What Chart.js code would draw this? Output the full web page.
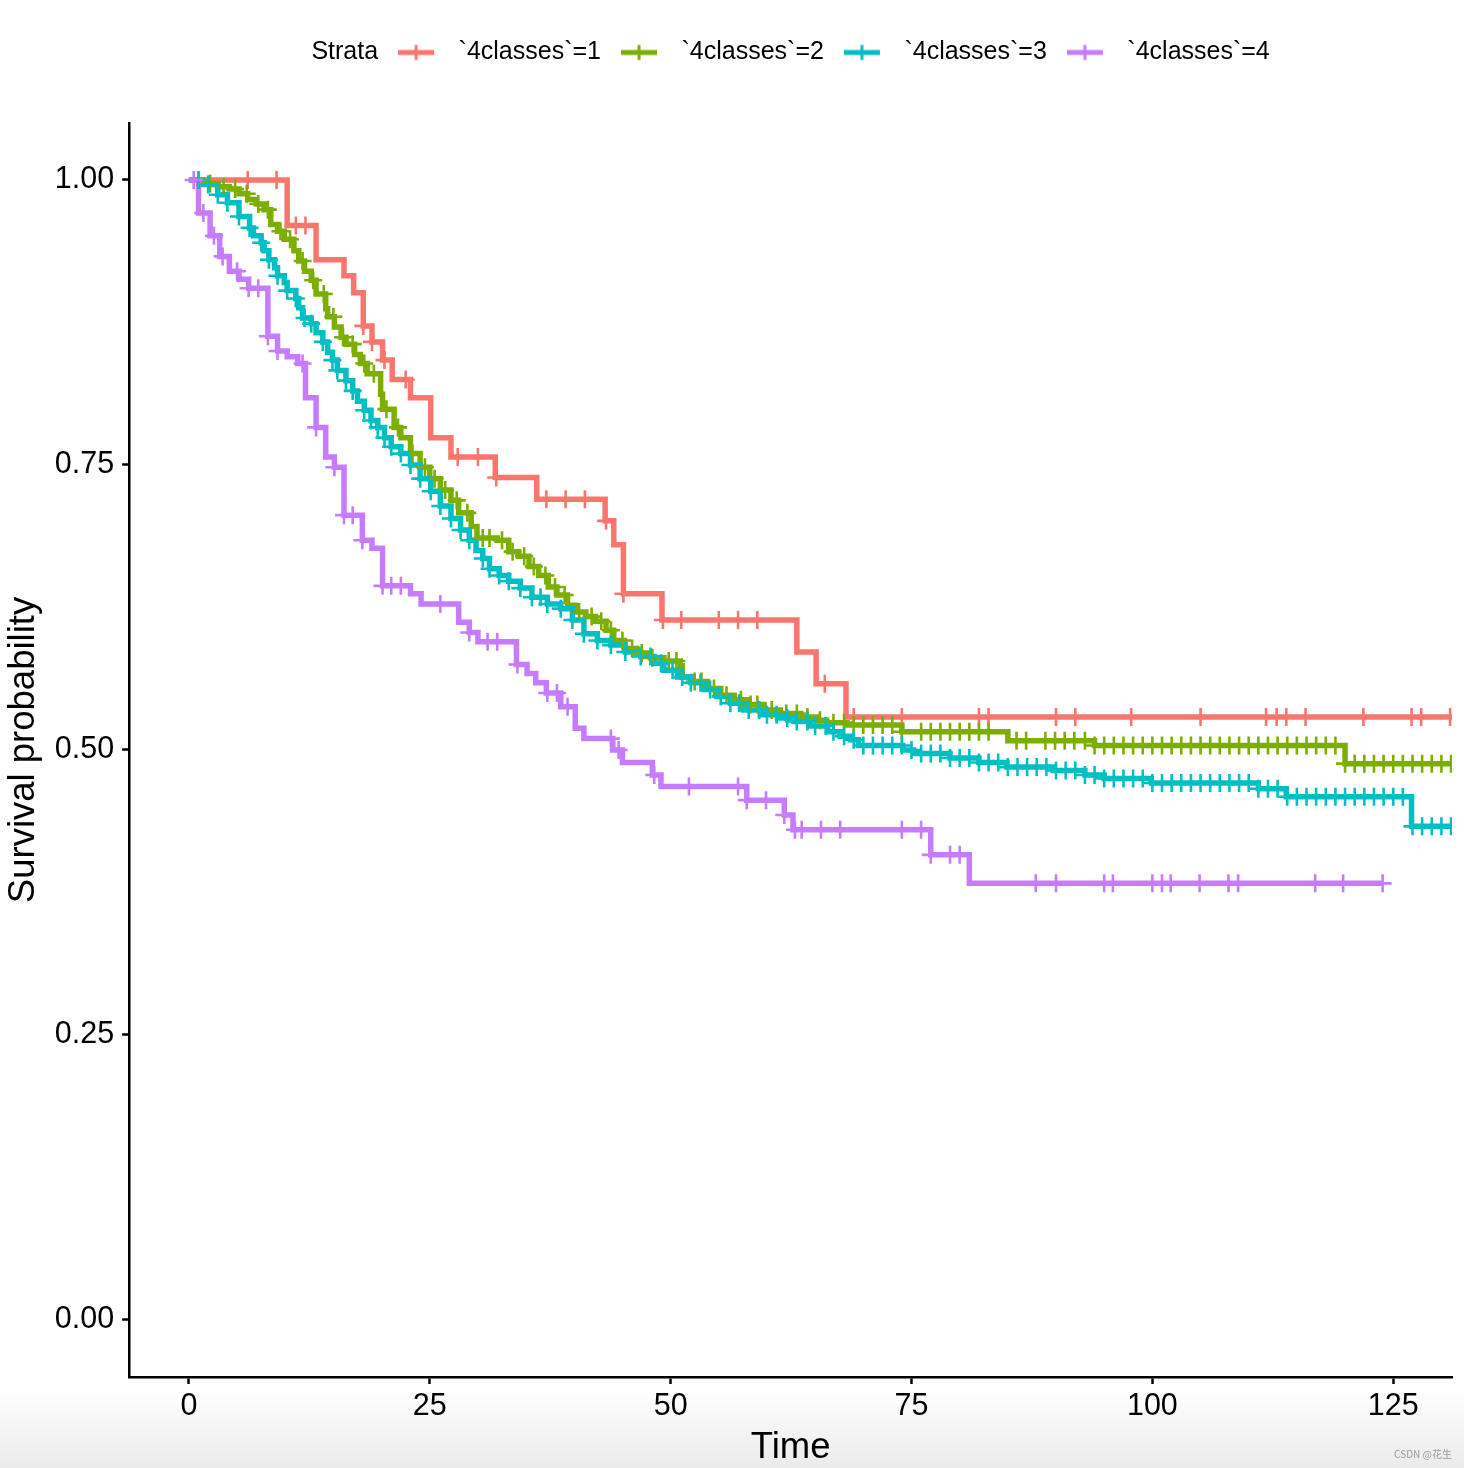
<!DOCTYPE html>
<html>
<head>
<meta charset="utf-8">
<script src="https://cdn.jsdelivr.net/npm/chart.js"></script>
<style>
  html, body { margin: 0; padding: 0; }
  body {
    width: 1464px; height: 1468px; position: relative; overflow: hidden;
    background: linear-gradient(to bottom, #ffffff 0px, #ffffff 1388px, #ebebeb 1468px);
  }
  #km { position: absolute; left: 0; top: 0; }
  #mark { position: absolute; right: 12px; top: 1446px; font: 10px "Noto Sans CJK SC", sans-serif; color: #9a9a9a; }
</style>
</head>
<body>
<canvas id="km" width="1464" height="1468"></canvas>
<div id="mark">CSDN @花生</div>
<script>
// strata
var strataNames = ['`4classes`=1', '`4classes`=2', '`4classes`=3', '`4classes`=4'];
var strataColors = ['#F8766D', '#7CAE00', '#00BFC4', '#C77CFF'];

// axis ticks
var xTicks = [0, 25, 50, 75, 100, 125];
var yTicks = [0, 0.25, 0.5, 0.75, 1];
var yTickLabels = ['0.00', '0.25', '0.50', '0.75', '1.00'];

// stratum 1: step times, survival after each step, censor times
var time1 = [0, 10.2, 13.2, 16.1, 17.1, 18.1, 19.0, 20.1, 21.1, 23.0, 25.1, 27.2, 31.8, 36.1, 43.2, 44.1, 45.1, 49.1, 63.1, 65.1, 68.2, 131.1];
var surv1 = [1.000, 0.960, 0.930, 0.916, 0.901, 0.872, 0.858, 0.842, 0.825, 0.809, 0.774, 0.757, 0.739, 0.720, 0.701, 0.680, 0.637, 0.614, 0.586, 0.558, 0.529, 0.529];
var cens1 = [6.1, 9.1, 11.1, 12.1, 18.1, 19.0, 20.3, 22.5, 27.9, 30.0, 31.9, 37.1, 39.1, 41.1, 43.3, 45.1, 49.2, 51.1, 55.0, 57.0, 59.0, 66.0, 69.0, 74.0, 82.0, 83.0, 90.0, 92.0, 97.8, 105.0, 111.8, 112.9, 113.9, 115.9, 121.9, 126.9, 127.9, 130.9];

// stratum 2
var time2 = [0, 1.5, 3.0, 4.2, 5.2, 6.1, 7.0, 7.8, 8.5, 9.2,
  9.9, 10.9, 11.4, 12.0, 12.7, 13.2, 14.2, 14.4, 15.1, 15.8,
  16.3, 17.2, 17.8, 18.5, 19.9, 20.1, 21.3, 22.0, 23.0, 24.0,
  25.0, 26.1, 27.2, 28.0, 29.3, 29.9, 32.0, 33.2, 34.2, 35.3,
  36.3, 37.3, 38.2, 39.3, 40.1, 41.2, 42.2, 43.3, 44.1, 45.2,
  46.5, 47.9, 49.3, 51.0, 51.2, 52.2, 53.8, 55.2, 56.6, 58.1,
  59.7, 61.4, 63.5, 65.2, 66.2, 68.3, 74.0, 85.0, 94.0, 120.0,
  131.1];
var surv2 = [1.000, 0.997, 0.994, 0.992, 0.988, 0.983, 0.979, 0.974, 0.961, 0.955,
  0.948, 0.938, 0.929, 0.920, 0.912, 0.900, 0.887, 0.880, 0.871, 0.862,
  0.856, 0.847, 0.839, 0.830, 0.812, 0.799, 0.783, 0.774, 0.760, 0.748,
  0.738, 0.728, 0.719, 0.708, 0.696, 0.686, 0.684, 0.674, 0.670, 0.661,
  0.653, 0.643, 0.636, 0.627, 0.621, 0.617, 0.613, 0.605, 0.596, 0.589,
  0.585, 0.581, 0.578, 0.574, 0.564, 0.560, 0.554, 0.548, 0.544, 0.540,
  0.535, 0.532, 0.529, 0.526, 0.524, 0.522, 0.516, 0.508, 0.504, 0.488,
  0.488];
var cens2 = [1.0, 2.2, 3.6, 4.8, 6.0, 7.2, 8.2, 9.5, 10.5, 11.8, 12.9, 14.0, 15.0, 16.0, 17.0, 18.2, 19.2, 20.5, 21.7, 23.2,
  24.5, 25.5, 26.6, 27.8, 28.9, 30.5, 31.2, 32.5, 33.6, 34.8, 35.8, 37.0, 38.0, 39.0, 40.5, 41.8, 42.8, 43.8, 45.0, 46.0,
  47.0, 48.1, 49.8, 50.6, 52.5, 53.2, 54.5, 55.8, 57.3, 58.3, 59.0, 60.5, 62.0, 63.1, 64.2, 65.5, 66.9, 68.0,
  69.0, 70.0, 71.0, 72.0, 73.0, 74.0, 76.0, 77.0, 78.0, 79.0, 80.0, 81.0, 82.0, 83.0, 85.9, 86.9, 88.9, 89.9, 90.9, 91.9, 93.0,
  94.0, 95.0, 96.0, 97.0, 98.0, 99.0, 100.0, 101.0, 102.0, 103.0, 104.0, 105.0, 106.0, 107.0, 108.0, 109.0, 110.0,
  111.0, 112.0, 113.0, 114.0, 115.0, 116.0, 117.0, 118.0, 119.0, 120.0, 121.0, 122.0, 123.0, 124.0, 125.0, 126.0,
  127.0, 128.0, 129.0, 130.0, 131.0];

// stratum 3
var time3 = [0, 1.1, 3.0, 4.0, 5.2, 6.3, 6.7, 7.5, 7.8, 8.3,
  8.9, 9.2, 9.9, 10.2, 11.1, 11.4, 11.8, 12.7, 13.2, 13.9,
  14.4, 14.9, 15.4, 16.3, 17.0, 17.5, 18.2, 18.9, 19.6, 20.3,
  21.0, 22.0, 23.0, 24.0, 25.1, 26.1, 27.2, 28.2, 29.1, 29.8,
  30.5, 31.2, 32.2, 33.2, 34.4, 35.6, 37.2, 38.6, 39.8, 41.0,
  42.4, 43.8, 45.3, 46.9, 48.3, 49.3, 50.7, 52.1, 53.5, 54.8,
  56.2, 57.6, 59.3, 61.1, 62.8, 64.5, 66.3, 67.6, 68.7, 69.5,
  74.1, 75.2, 79.0, 82.0, 84.9, 89.7, 93.0, 95.0, 99.9, 111.0,
  113.9, 126.9, 131.1];
var surv3 = [1.000, 0.996, 0.987, 0.980, 0.968, 0.958, 0.951, 0.945, 0.938, 0.930,
  0.923, 0.916, 0.910, 0.903, 0.896, 0.888, 0.879, 0.874, 0.866, 0.858,
  0.849, 0.842, 0.833, 0.824, 0.815, 0.806, 0.798, 0.789, 0.783, 0.774,
  0.766, 0.760, 0.750, 0.738, 0.727, 0.714, 0.703, 0.693, 0.684, 0.675,
  0.668, 0.659, 0.653, 0.648, 0.642, 0.634, 0.628, 0.624, 0.614, 0.602,
  0.596, 0.592, 0.586, 0.582, 0.576, 0.570, 0.564, 0.559, 0.553, 0.547,
  0.541, 0.535, 0.531, 0.528, 0.525, 0.521, 0.516, 0.512, 0.509, 0.504,
  0.500, 0.497, 0.493, 0.489, 0.485, 0.482, 0.478, 0.475, 0.471, 0.466,
  0.459, 0.433, 0.433];
var cens3 = [1.0, 2.0, 3.0, 4.0, 5.2, 6.3, 7.5, 8.3, 9.2, 10.2, 11.1, 12.0, 12.7, 13.9, 14.9, 15.4, 16.3, 17.0, 18.2, 18.9,
  19.6, 20.3, 21.0, 22.0, 23.0, 24.0, 25.1, 26.1, 27.2, 28.2, 29.1, 30.5, 31.2, 32.2, 33.2, 34.4, 35.6, 36.5, 37.2, 38.6,
  39.8, 41.0, 42.4, 43.8, 45.3, 46.9, 47.9, 49.0, 50.2, 51.2, 52.1, 53.1, 54.1, 55.2, 56.2, 57.1, 58.1, 59.2, 60.0, 61.0,
  62.1, 63.1, 64.2, 65.0, 66.1, 66.9, 68.0, 69.0, 70.0, 71.0, 72.0, 73.0, 74.0, 75.0, 76.0, 77.0, 78.0, 79.0, 80.0, 81.0,
  82.0, 83.0, 84.0, 85.0, 86.0, 87.0, 88.0, 89.0, 90.0, 91.0, 92.0, 93.0, 94.0, 95.0, 96.0, 97.0, 98.0, 99.0, 100.0,
  101.0, 102.0, 103.0, 104.0, 105.0, 106.0, 107.0, 108.0, 109.0, 110.0, 111.0, 112.0, 113.0, 114.0, 115.0, 116.0,
  117.0, 118.0, 119.0, 120.0, 121.0, 122.0, 123.0, 124.0, 125.0, 126.0, 127.0, 128.0, 129.0, 130.0, 131.0];

// stratum 4
var time4 = [0, 1.0, 2.2, 3.2, 4.2, 5.2, 6.2, 8.2, 9.2, 10.2,
  11.3, 12.1, 13.2, 14.2, 15.1, 16.1, 18.0, 19.0, 20.1, 23.0,
  24.1, 28.0, 29.1, 30.0, 34.0, 35.1, 36.0, 37.1, 38.6, 40.1,
  41.0, 44.0, 45.0, 48.1, 49.0, 57.9, 61.8, 62.7, 77.0, 81.0,
  124.0];
var surv4 = [1.000, 0.971, 0.951, 0.933, 0.920, 0.913, 0.905, 0.863, 0.850, 0.845,
  0.839, 0.809, 0.783, 0.757, 0.748, 0.706, 0.684, 0.677, 0.644, 0.637,
  0.628, 0.612, 0.603, 0.595, 0.575, 0.567, 0.559, 0.550, 0.538, 0.519,
  0.510, 0.500, 0.489, 0.478, 0.468, 0.456, 0.443, 0.430, 0.408, 0.383,
  0.383];
var cens4 = [0.5, 1.5, 2.6, 3.5, 5.0, 6.2, 7.2, 8.2, 9.2, 11.8, 13.2, 15.1, 16.1, 17.0, 18.0, 20.1, 21.0, 22.0, 26.1, 29.1,
  31.0, 32.0, 34.1, 37.2, 38.2, 39.3, 43.8, 44.6, 48.3, 51.9, 57.0, 57.9, 59.9, 61.8, 62.9, 63.6, 65.6, 67.6, 74.0, 76.0,
  77.0, 79.0, 80.0, 87.9, 90.0, 95.0, 95.9, 100.0, 101.0, 101.9, 104.9, 107.9, 108.9, 116.9, 119.8, 123.9];

var timeSets = [time1, time2, time3, time4];
var survSets = [surv1, surv2, surv3, surv4];
var censSets = [cens1, cens2, cens3, cens4];

var fontFamily = "'Liberation Sans', Arial, sans-serif";

// survival value of a step curve at time t
function survAt(times, surv, t) {
  var v = surv[0];
  for (var i = 0; i < times.length; i++) {
    if (times[i] <= t + 1e-9) v = surv[i];
    else break;
  }
  return v;
}

// legend key: short line with a tick, like the ggplot key
function legendSymbol(color) {
  var c = document.createElement('canvas');
  c.width = 48;
  c.height = 20;
  if (color) {
    var g = c.getContext('2d');
    g.fillStyle = color;
    g.fillRect(0, 7.5, 36, 5);
    g.fillRect(16.5, 2.5, 3, 15);
  }
  return c;
}

var datasets = [];
for (var k = 0; k < 4; k++) {
  datasets.push({
    type: 'line',
    label: strataNames[k],
    data: timeSets[k].map(function (t, i) { return {x: t, y: survSets[this][i]}; }, k),
    borderColor: strataColors[k],
    backgroundColor: strataColors[k],
    borderWidth: 5.5,
    stepped: 'before',
    pointRadius: 0,
    pointHoverRadius: 0,
    fill: false,
    order: 8 - k
  });
}
for (var k = 0; k < 4; k++) {
  datasets.push({
    type: 'scatter',
    label: strataNames[k] + ' censor',
    data: censSets[k].map(function (t) { return {x: t, y: survAt(timeSets[this], survSets[this], t)}; }, k),
    showLine: false,
    pointStyle: 'cross',
    pointRadius: 9,
    pointHoverRadius: 9,
    pointBorderWidth: 2.6,
    pointBorderColor: strataColors[k],
    pointBackgroundColor: strataColors[k],
    order: 4 - k
  });
}

// keep the legend (with its "Strata" title) centred over the panel
var legendCenter = {
  id: 'legendCenter',
  afterLayout: function (chart) {
    var lg = chart.legend;
    if (!lg || !lg.lineWidths) return;
    var lab = lg.options.labels;
    var pad = lab.padding;
    var lw = lg.lineWidths[0];
    var lead = lab.pointStyleWidth + lab.font.size / 2;
    var x0 = (lg.left + pad + lg.right - lw) / 2;
    var visibleCenter = x0 + (lead + lw - pad) / 2;
    var target = (chart.chartArea.left + chart.chartArea.right) / 2;
    var d = target - visibleCenter;
    lg.left += d;
    lg.right += d;
  }
};

new Chart(document.getElementById('km'), {
  type: 'line',
  data: {datasets: datasets},
  plugins: [legendCenter],
  options: {
    responsive: false,
    animation: false,
    layout: {padding: {top: 20, left: 2, right: 12, bottom: 0}},
    plugins: {
      tooltip: {enabled: false},
      legend: {
        position: 'top',
        onClick: function () {},
        labels: {
          usePointStyle: true,
          pointStyleWidth: 48,
          padding: 20,
          color: '#000',
          font: {family: fontFamily, size: 25},
          generateLabels: function () {
            var items = [{
              text: 'Strata', pointStyle: legendSymbol(null), fillStyle: 'rgba(0,0,0,0)',
              strokeStyle: 'rgba(0,0,0,0)', lineWidth: 0, hidden: false, fontColor: '#000'
            }];
            strataNames.forEach(function (n, i) {
              items.push({
                text: n, pointStyle: legendSymbol(strataColors[i]), fillStyle: strataColors[i],
                strokeStyle: strataColors[i], lineWidth: 0, hidden: false, datasetIndex: i, fontColor: '#000'
              });
            });
            return items;
          }
        }
      },
      subtitle: {
        display: true,
        text: '',
        position: 'top',
        weight: 500,
        padding: {top: 0, bottom: 18},
        font: {size: 25, lineHeight: 1.2}
      }
    },
    scales: {
      x: {
        type: 'linear',
        min: -6.2,
        max: 131.1,
        afterBuildTicks: function (s) { s.ticks = xTicks.map(function (v) { return {value: v}; }); },
        grid: {display: true, drawOnChartArea: false, drawTicks: true, tickLength: 7, tickWidth: 2.5, tickColor: '#000', color: '#000'},
        border: {display: true, color: '#000', width: 2.5},
        ticks: {color: '#000', font: {family: fontFamily, size: 30.5}, padding: 4, maxRotation: 0, autoSkip: false},
        title: {display: true, text: 'Time', color: '#000', font: {family: fontFamily, size: 36.5, lineHeight: 1.08}, padding: 0}
      },
      y: {
        type: 'linear',
        min: -0.05,
        max: 1.05,
        afterBuildTicks: function (s) { s.ticks = yTicks.map(function (v) { return {value: v}; }); },
        grid: {display: true, drawOnChartArea: false, drawTicks: true, tickLength: 7, tickWidth: 2.5, tickColor: '#000', color: '#000'},
        border: {display: true, color: '#000', width: 2.5},
        ticks: {
          color: '#000', font: {family: fontFamily, size: 30.5}, padding: 8, autoSkip: false,
          callback: function (v) { var i = yTicks.indexOf(v); return i >= 0 ? yTickLabels[i] : ''; }
        },
        title: {display: true, text: 'Survival probability', color: '#000', font: {family: fontFamily, size: 36.5, lineHeight: 1.2}, padding: {top: 0, bottom: 1}}
      }
    }
  }
});
</script>
</body>
</html>
